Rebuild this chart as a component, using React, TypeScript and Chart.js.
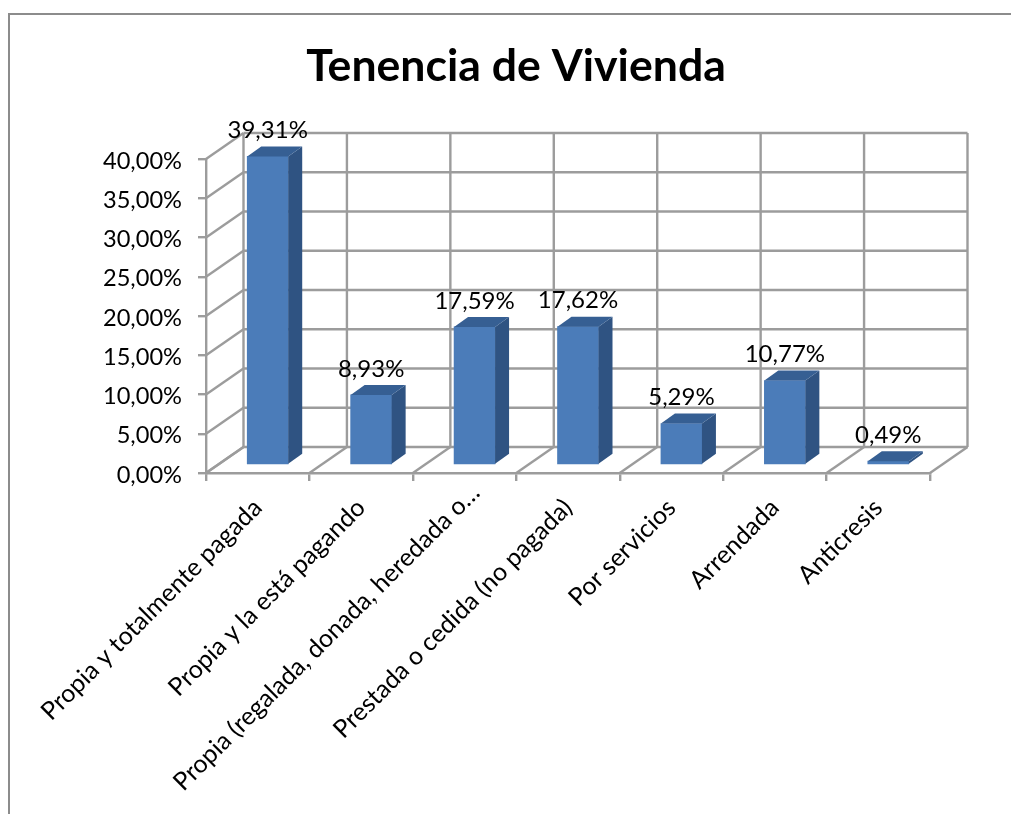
import React, { useEffect, useRef } from "react";
import { Chart, registerables } from "chart.js";

Chart.register(...registerables);

const titleText = "Tenencia de Vivienda";
const categories = [
  "Propia y totalmente pagada",
  "Propia y la está pagando",
  "Propia (regalada, donada, heredada o…",
  "Prestada o cedida (no pagada)",
  "Por servicios",
  "Arrendada",
  "Anticresis",
];
const values = [39.31, 8.93, 17.59, 17.62, 5.29, 10.77, 0.49];
const valueLabels = ["39,31%", "8,93%", "17,59%", "17,62%", "5,29%", "10,77%", "0,49%"];
const yTickLabels = ["0,00%", "5,00%", "10,00%", "15,00%", "20,00%", "25,00%", "30,00%", "35,00%", "40,00%"];

const FONT = "Lato, 'Open Sans', sans-serif";
const GRID = "#9c9c9c";
const GRID_W = 2.4;
const WALL = { dx: 37.5, dy: -26 };
const BAR_SHIFT = { dx: 10, dy: -8 };
const BAR_DEPTH = { dx: 14, dy: -10 };
const LONG_LABEL_INDEX = 2;
const LONG_LABEL_NUDGE = { dx: 11, dy: -15 };

const chrome3d = {
  id: "chrome3d",
  beforeDraw(chart: any) {
    const { ctx, width, height } = chart;
    ctx.save();
    ctx.strokeStyle = "#8c8c8c";
    ctx.lineWidth = 2;
    ctx.beginPath();
    ctx.moveTo(9, height);
    ctx.lineTo(9, 14);
    ctx.lineTo(width, 14);
    ctx.stroke();
    ctx.restore();
    const item = chart.scales.x.getLabelItems()[LONG_LABEL_INDEX];
    if (item && !item.nudged) {
      item.nudged = true;
      item.options.translation = [
        item.options.translation[0] + LONG_LABEL_NUDGE.dx,
        item.options.translation[1] + LONG_LABEL_NUDGE.dy,
      ];
    }
  },
  beforeDatasetsDraw(chart: any) {
    const { ctx, chartArea, scales } = chart;
    const { left, right, top, bottom } = chartArea;
    const line = (x1: number, y1: number, x2: number, y2: number) => {
      ctx.beginPath();
      ctx.moveTo(x1, y1);
      ctx.lineTo(x2, y2);
      ctx.stroke();
    };
    ctx.save();
    ctx.strokeStyle = GRID;
    ctx.lineWidth = GRID_W;
    const yS = scales.y;
    yS.ticks.forEach((t: any) => {
      const y = yS.getPixelForValue(t.value);
      line(left, y, left + WALL.dx, y + WALL.dy);
      line(left + WALL.dx, y + WALL.dy, right + WALL.dx, y + WALL.dy);
    });
    const n = categories.length;
    const step = (right - left) / n;
    for (let i = 0; i <= n; i++) {
      const x = left + step * i;
      line(x, bottom, x + WALL.dx, bottom + WALL.dy);
      line(x + WALL.dx, bottom + WALL.dy, x + WALL.dx, top + WALL.dy);
    }
    ctx.restore();
    ctx.save();
    ctx.translate(BAR_SHIFT.dx, BAR_SHIFT.dy);
  },
  afterDatasetsDraw(chart: any) {
    const { ctx } = chart;
    const meta = chart.getDatasetMeta(0);
    const { dx, dy } = BAR_DEPTH;
    meta.data.forEach((bar: any) => {
      const l = bar.x - bar.width / 2;
      const r = bar.x + bar.width / 2;
      const t = bar.y;
      const b = bar.base;
      ctx.fillStyle = "#2f5382";
      ctx.beginPath();
      ctx.moveTo(r, t);
      ctx.lineTo(r + dx, t + dy);
      ctx.lineTo(r + dx, b + dy);
      ctx.lineTo(r, b);
      ctx.closePath();
      ctx.fill();
      ctx.fillStyle = "#365f93";
      ctx.beginPath();
      ctx.moveTo(l, t);
      ctx.lineTo(l + dx, t + dy);
      ctx.lineTo(r + dx, t + dy);
      ctx.lineTo(r, t);
      ctx.closePath();
      ctx.fill();
    });
    ctx.restore();
    ctx.save();
    ctx.fillStyle = "#000";
    ctx.font = `24px ${FONT}`;
    ctx.textAlign = "center";
    ctx.textBaseline = "middle";
    meta.data.forEach((bar: any, i: number) => {
      ctx.fillText(valueLabels[i], bar.x + BAR_SHIFT.dx, bar.y + BAR_SHIFT.dy - 26);
    });
    ctx.restore();
  },
};

export default function App() {
  const ref = useRef<HTMLCanvasElement>(null);
  useEffect(() => {
    const chart = new Chart(ref.current!, {
      type: "bar",
      data: {
        labels: categories,
        datasets: [
          {
            data: values,
            backgroundColor: "#4b7cb9",
            borderWidth: 0,
            barThickness: 41,
          },
        ],
      },
      plugins: [chrome3d],
      options: {
        animation: false,
        responsive: false,
        layout: { padding: { left: 102, right: 81, top: 0, bottom: 0 } },
        plugins: {
          legend: { display: false },
          tooltip: { enabled: false },
          title: {
            display: true,
            text: titleText,
            color: "#000",
            font: { family: FONT, size: 44.6, weight: "bold", lineHeight: 1.2 },
            padding: { top: 40, bottom: 65.5 },
          },
        },
        scales: {
          x: {
            grid: { offset: true, drawOnChartArea: false, drawTicks: true, tickLength: 8, color: GRID, lineWidth: GRID_W },
            border: { color: GRID, width: GRID_W },
            ticks: {
              autoSkip: false,
              minRotation: 45,
              maxRotation: 45,
              color: "#000",
              padding: 12,
              font: { family: FONT, size: 25 },
            },
            afterFit: (s: any) => {
              s.height = 341;
            },
          },
          y: {
            min: 0,
            max: 40,
            grid: { drawOnChartArea: false, drawTicks: true, tickLength: 8, color: GRID, lineWidth: GRID_W },
            border: { color: GRID, width: GRID_W },
            ticks: {
              stepSize: 5,
              color: "#000",
              padding: 16,
              labelOffset: 2,
              font: { family: FONT, size: 23.6 },
              callback: (_v: any, i: number) => yTickLabels[i],
            },
            afterFit: (s: any) => {
              s.width = 104;
            },
          },
        },
      },
    } as any);
    return () => chart.destroy();
  }, []);
  return (
    <div style={{ position: "fixed", left: 0, top: 0, width: 1011, height: 814, background: "#fff" }}>
      <canvas ref={ref} width={1011} height={814} style={{ display: "block" }} />
    </div>
  );
}
